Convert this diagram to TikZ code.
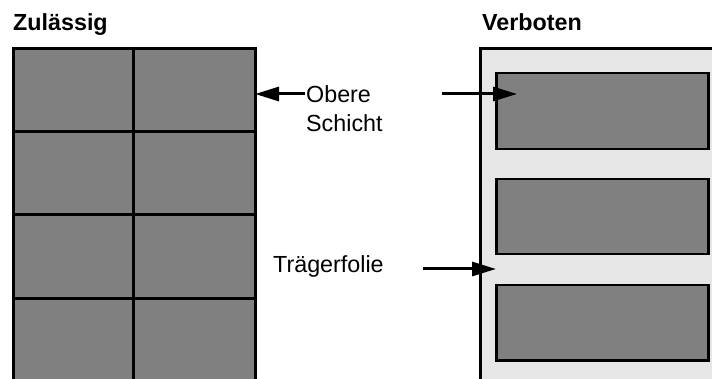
\documentclass[tikz,border=0pt]{standalone}
\usepackage{fontspec}
\setmainfont{Liberation Sans}
\usetikzlibrary{arrows.meta}
\definecolor{cellgray}{HTML}{808080}
\definecolor{lightbg}{HTML}{E6E6E6}
\begin{document}
\begin{tikzpicture}[x=1pt,y=-1pt,
  cell/.style={draw=black,line width=3pt,fill=cellgray},
  label/.style={inner sep=0pt,font=\fontsize{23.3}{29}\selectfont,anchor=base west},
  title/.style={label,font=\fontsize{23.3}{29}\selectfont\bfseries},
  arr/.style={line width=3pt,-{Triangle[length=24pt,width=14pt]}}]
\useasboundingbox (0,0) rectangle (712,379);
\clip (0,0) rectangle (712,379);
% titles
\node[title] (tz) at (13,31) {Zulässig};
\node[title] (tv) at (482,31) {Verboten};
% left grid
\foreach \r/\ya/\yb in {1/49/132,2/132/215,3/215/299,4/299/382}{
  \draw[cell] (13,\ya) rectangle (133,\yb);
  \draw[cell] (133,\ya) rectangle (255,\yb);
}
\coordinate (gridE) at (255,94);
% right frame
\draw[line width=3pt,fill=lightbg] (480,49) rectangle (730,400);
\node[draw=black,line width=2.5pt,fill=cellgray,minimum width=212pt,minimum height=76pt,anchor=north west,inner sep=0pt] (r1) at (495,72) {};
\node[draw=black,line width=2.5pt,fill=cellgray,minimum width=212pt,minimum height=75pt,anchor=north west,inner sep=0pt] (r2) at (495,178) {};
\node[draw=black,line width=2.5pt,fill=cellgray,minimum width=212pt,minimum height=75pt,anchor=north west,inner sep=0pt] (r3) at (495,284) {};
% labels
\node[label] (ob) at (306,103) {Obere};
\node[label] (sc) at (306,132) {Schicht};
\node[label] (tr) at (273,273) {Trägerfolie};
% arrows
\coordinate (a1s) at (305,94);
\coordinate (a2s) at (442,94);
\coordinate (a2e) at (517,94);
\coordinate (a3s) at (423,269);
\coordinate (a3e) at (496,269);
\draw[arr] (a1s) -- (gridE);
\draw[arr] (a2s) -- (a2e);
\draw[arr] (a3s) -- (a3e);
\end{tikzpicture}
\end{document}
